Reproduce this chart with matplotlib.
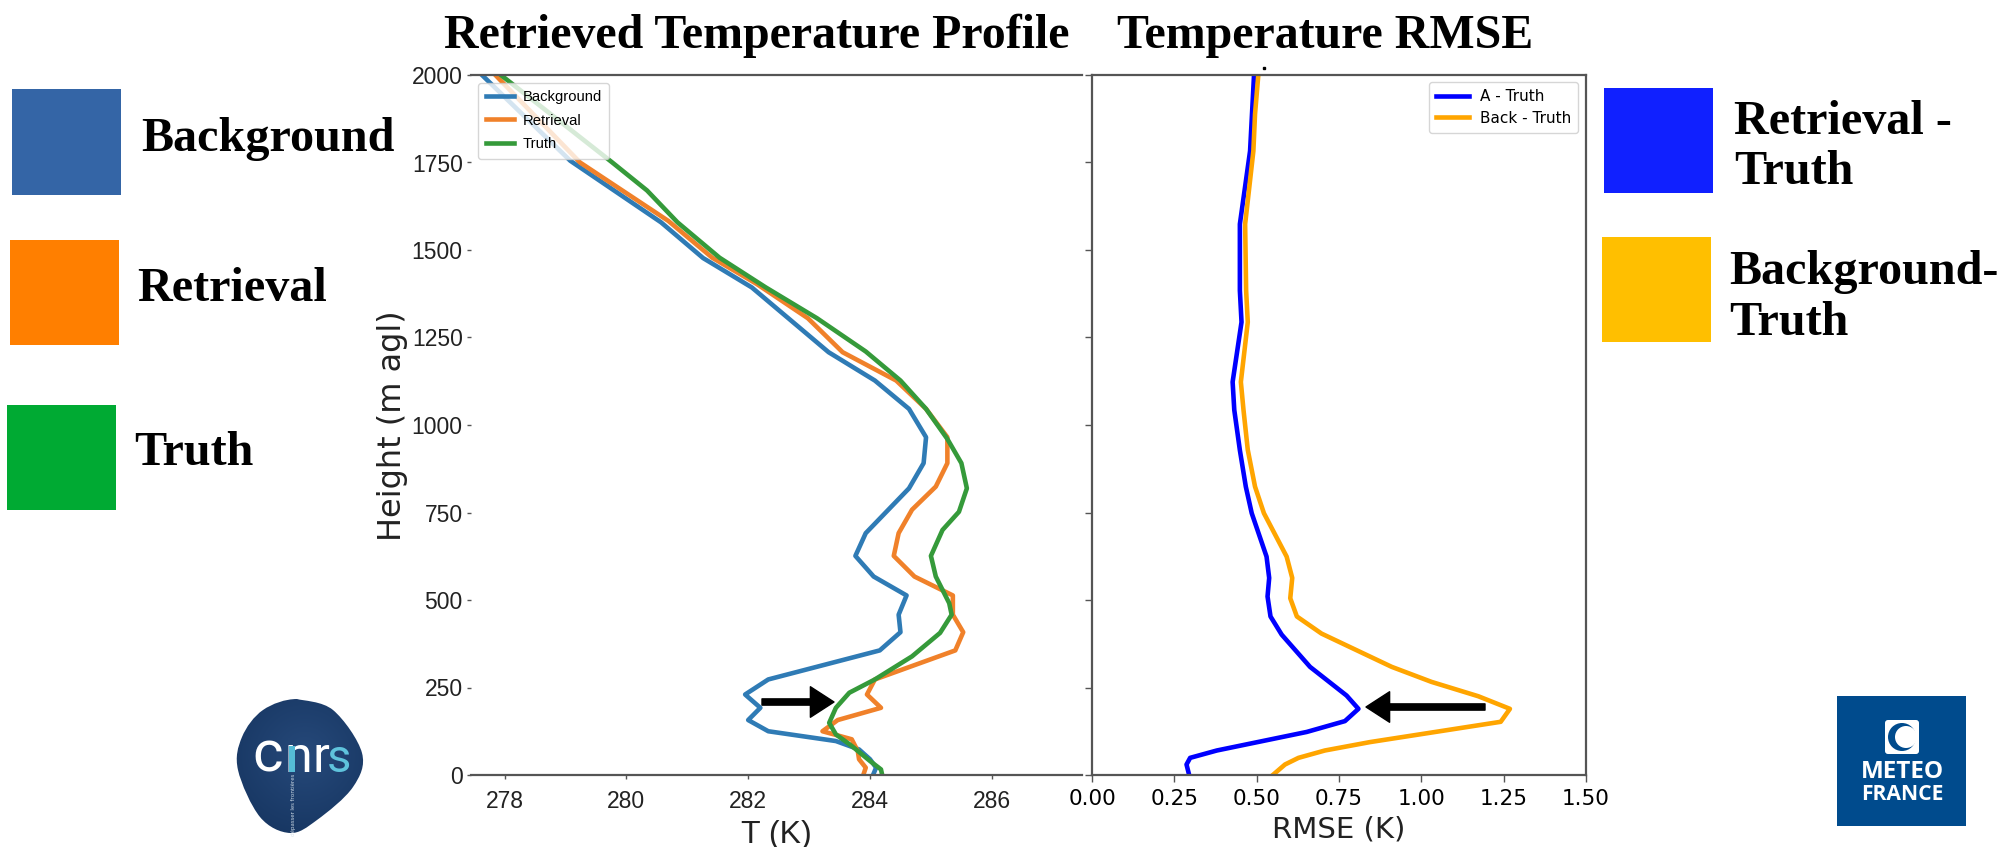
import numpy as np
import matplotlib
matplotlib.use('Agg')
import matplotlib.pyplot as plt
from matplotlib.colors import LinearSegmentedColormap
from matplotlib.patches import Rectangle, FancyBboxPatch, PathPatch, Circle
from matplotlib.path import Path

# left panel: temperature profiles
bg_h = [2000, 1755, 1579, 1477, 1393, 1208, 1127, 1046, 965, 891, 819, 691, 626, 567, 513, 458, 408, 356, 273, 230, 192, 157, 125, 97, 73, 45, 21, 0]
bg_t = [277.63, 279.08, 280.57, 281.26, 282.06, 283.32, 284.08, 284.64, 284.92, 284.88, 284.64, 283.93, 283.76, 284.06, 284.60, 284.47, 284.50, 284.16, 282.33, 281.95, 282.20, 282.00, 282.33, 283.44, 283.82, 284.00, 284.10, 284.05]
ret_h = [2000, 1750, 1583, 1478, 1403, 1305, 1208, 1127, 1046, 965, 891, 824, 758, 691, 626, 567, 513, 458, 408, 356, 273, 230, 192, 157, 125, 102, 68, 45, 21, 0]
ret_t = [277.85, 279.24, 280.69, 281.41, 282.14, 282.98, 283.55, 284.43, 284.92, 285.27, 285.27, 285.08, 284.69, 284.47, 284.39, 284.73, 285.36, 285.36, 285.53, 285.40, 284.08, 283.95, 284.18, 283.47, 283.22, 283.70, 283.80, 283.82, 283.93, 283.89]
tru_h = [2000, 1750, 1670, 1579, 1478, 1393, 1305, 1210, 1127, 1046, 960, 891, 819, 752, 700, 626, 567, 491, 458, 406, 339, 273, 235, 192, 149, 116, 83, 40, 16, 0]
tru_t = [277.94, 279.77, 280.34, 280.84, 281.53, 282.29, 283.13, 283.93, 284.50, 284.92, 285.27, 285.50, 285.59, 285.46, 285.19, 285.00, 285.08, 285.30, 285.34, 285.15, 284.69, 284.08, 283.66, 283.44, 283.33, 283.44, 283.70, 284.00, 284.18, 284.20]

# right panel: rmse
a_h = [2000, 1783, 1574, 1384, 1294, 1123, 1043, 928, 824, 748, 624, 563, 510, 453, 401, 309, 227, 189, 154, 123, 70, 49, 30, 0]
a_rmse = [0.492, 0.480, 0.449, 0.449, 0.454, 0.427, 0.432, 0.449, 0.467, 0.485, 0.530, 0.538, 0.533, 0.542, 0.576, 0.662, 0.773, 0.809, 0.768, 0.652, 0.379, 0.298, 0.287, 0.295]
b_h = [2000, 1888, 1783, 1574, 1384, 1294, 1123, 1043, 929, 824, 748, 624, 563, 505, 453, 404, 309, 266, 225, 189, 152, 94, 70, 49, 30, 0]
b_rmse = [0.505, 0.495, 0.490, 0.465, 0.468, 0.473, 0.452, 0.460, 0.473, 0.495, 0.522, 0.591, 0.608, 0.602, 0.622, 0.697, 0.910, 1.031, 1.173, 1.269, 1.241, 0.844, 0.707, 0.627, 0.586, 0.549]

y_ticks = [0, 250, 500, 750, 1000, 1250, 1500, 1750, 2000]
t_ticks = [278, 280, 282, 284, 286]
rmse_ticks = [0.00, 0.25, 0.50, 0.75, 1.00, 1.25, 1.50]

W, H = 2000, 847
NARROW = 'Liberation Sans'
SERIF = 'Liberation Serif'
GREY = '#555555'

fig = plt.figure(figsize=(20, 8.47), dpi=100)

def px_axes(x0, y0, x1, y1):
    return fig.add_axes([x0 / W, 1 - y1 / H, (x1 - x0) / W, (y1 - y0) / H])

# left panel
ax1 = px_axes(471, 75, 1082, 775)
ax1.plot(bg_t, bg_h, color='#2f7bb5', lw=3.3, label='Background')
ax1.plot(ret_t, ret_h, color='#f0812a', lw=3.3, label='Retrieval')
ax1.plot(tru_t, tru_h, color='#359a3a', lw=3.3, label='Truth')
ax1.set_xlim(277.45, 287.48)
ax1.set_ylim(0, 2000)
ax1.set_xticks(t_ticks)
ax1.set_yticks(y_ticks)
ax1.spines['left'].set_visible(False)
ax1.spines['right'].set_visible(False)
for s in ['top', 'bottom']:
    ax1.spines[s].set_color(GREY)
    ax1.spines[s].set_linewidth(1.6)
ax1.tick_params(length=3, width=1, color=GREY, labelsize=16.5, pad=3)
ax1.tick_params(axis='x', pad=8)
for lab in ax1.get_xticklabels() + ax1.get_yticklabels():
    lab.set_family(NARROW)
    lab.set_color('#222222')
ax1.set_xlabel('T (K)', family=NARROW, fontsize=23, labelpad=5, color='#222222')
ax1.legend(loc='upper left', bbox_to_anchor=(0.012, 0.989), borderaxespad=0,
           prop={'family': NARROW, 'size': 10.6}, labelspacing=0.65,
           handlelength=1.9, handletextpad=0.6, borderpad=0.5)

# right panel
ax2 = px_axes(1092, 75, 1586, 775)
ax2.plot(a_rmse, a_h, color='#0000ff', lw=3.3, label='A - Truth')
ax2.plot(b_rmse, b_h, color='#ffa500', lw=3.3, label='Back - Truth')
ax2.set_xlim(0, 1.5)
ax2.set_ylim(0, 2000)
ax2.set_xticks(rmse_ticks)
ax2.set_xticklabels(['%.2f' % v for v in rmse_ticks])
ax2.set_yticks(y_ticks)
ax2.set_yticklabels([])
for s in ax2.spines.values():
    s.set_color(GREY)
    s.set_linewidth(1.6)
ax2.tick_params(length=5, width=1, color=GREY)
ax2.tick_params(axis='x', labelsize=15.5, pad=5)
ax2.set_xlabel('RMSE (K)', fontsize=21, labelpad=5, color='#222222')
ax2.legend(loc='upper right', bbox_to_anchor=(0.984, 0.99), borderaxespad=0,
           prop={'size': 11}, labelspacing=0.45, handlelength=2.2,
           handletextpad=0.7, borderpad=0.45)

# overlay in image pixels for the slide parts around the plots
ov = fig.add_axes([0, 0, 1, 1], zorder=10)
ov.patch.set_alpha(0)
ov.axis('off')

ov.text(392, 426, 'Height (m agl)', rotation=90, ha='center', va='center',
        fontsize=23, color='#222222')

def title(x, y, s):
    ov.text(x, y, s, family=SERIF, weight='bold', fontsize=34.5, va='center', ha='left', color='black')

title(444, 36, 'Retrieved Temperature Profile')
title(1117, 36, 'Temperature RMSE')

swatches = [(12, 89, 109, 106, '#3465a6'),
            (10, 240, 109, 105, '#ff7f00'),
            (7, 405, 109, 105, '#00aa33'),
            (1604, 88, 109, 105, '#1020ff'),
            (1602, 237, 109, 105, '#ffbf00')]
for x, y, w, h, c in swatches:
    ov.add_patch(Rectangle((x, y), w, h, fc=c, ec='none'))

def label(x, y, s):
    ov.text(x, y, s, family=SERIF, weight='bold', fontsize=34.7, va='center', ha='left', color='black')

label(141, 139, 'Background')
label(137, 289, 'Retrieval')
label(134, 453, 'Truth')
label(1734, 122, 'Retrieval -')
label(1734, 172, 'Truth')
label(1729, 272, 'Background-')
label(1729, 323, 'Truth')

# arrows
ov.annotate('', xy=(834, 702), xytext=(762, 702),
            arrowprops=dict(width=4.5, headwidth=22, headlength=17, fc='black', ec='black', shrink=0))
ov.annotate('', xy=(1366, 707), xytext=(1485, 707),
            arrowprops=dict(width=4.5, headwidth=22, headlength=17, fc='black', ec='black', shrink=0))
ov.plot([1264], [68], marker='s', ms=2, color='black')

# cnrs logo
blob = [(297, 699), (333, 710), (362, 753), (353, 787), (317, 820), (290, 833),
        (260, 817), (238, 770), (242, 737), (263, 710), (297, 699)]
verts = [blob[0]]
codes = [Path.MOVETO]
n = len(blob) - 1
for i in range(n):
    p0, p1 = np.array(blob[i]), np.array(blob[i + 1])
    pm = np.array(blob[i - 1])
    p2 = np.array(blob[(i + 2) % n])
    verts += [tuple(p0 + (p1 - pm) / 6), tuple(p1 - (p2 - p0) / 6), tuple(p1)]
    codes += [Path.CURVE4] * 3
gx, gy = np.meshgrid(np.linspace(230, 370, 140), np.linspace(690, 840, 150))
dist = np.hypot(gx - 305, gy - 755)
navy = LinearSegmentedColormap.from_list('navy', ['#26497a', '#12305a'])
im = ov.imshow(dist, extent=(230, 370, 840, 690), cmap=navy, aspect='auto')
im.set_clip_path(PathPatch(Path(verts, codes), transform=ov.transData))
ov.text(252, 772, 'c', family='Roboto', fontsize=42, color='white', ha='left', va='baseline')
ov.text(285, 772, 'n', family='Roboto', fontsize=36, color='white', ha='left', va='baseline')
ov.add_patch(Rectangle((288.5, 746), 6, 26, fc='#55bcd6', ec='none', zorder=5))
ov.text(313, 772, 'r', family='Roboto', fontsize=36, color='white', ha='left', va='baseline')
ov.text(327, 772, 's', family='Roboto', fontsize=34, color='#5fc3dc', ha='left', va='baseline')
ov.text(293, 805, 'dépasser les frontières', family='Open Sans', fontsize=4.2, color='#d5e2ec',
        rotation=90, ha='center', va='center')

# meteo france logo
ov.add_patch(Rectangle((1837, 696), 129, 130, fc='#004b8d', ec='none'))
ov.add_patch(FancyBboxPatch((1885, 720), 34, 34, boxstyle='round,pad=0,rounding_size=3', fc='white', ec='none'))
ov.add_patch(Circle((1902, 737), 14, fc='#004b8d', ec='none'))
ov.add_patch(Circle((1906, 737), 11, fc='white', ec='none'))
ov.text(1902, 772, 'METEO', family='Open Sans', weight='bold', fontsize=17.5, color='white', ha='center', va='center')
ov.text(1902, 795, 'FRANCE', family='Open Sans', weight='bold', fontsize=15.2, color='white', ha='center', va='center')

ov.set_xlim(0, W)
ov.set_ylim(H, 0)

fig.savefig('out.png', dpi=100)
